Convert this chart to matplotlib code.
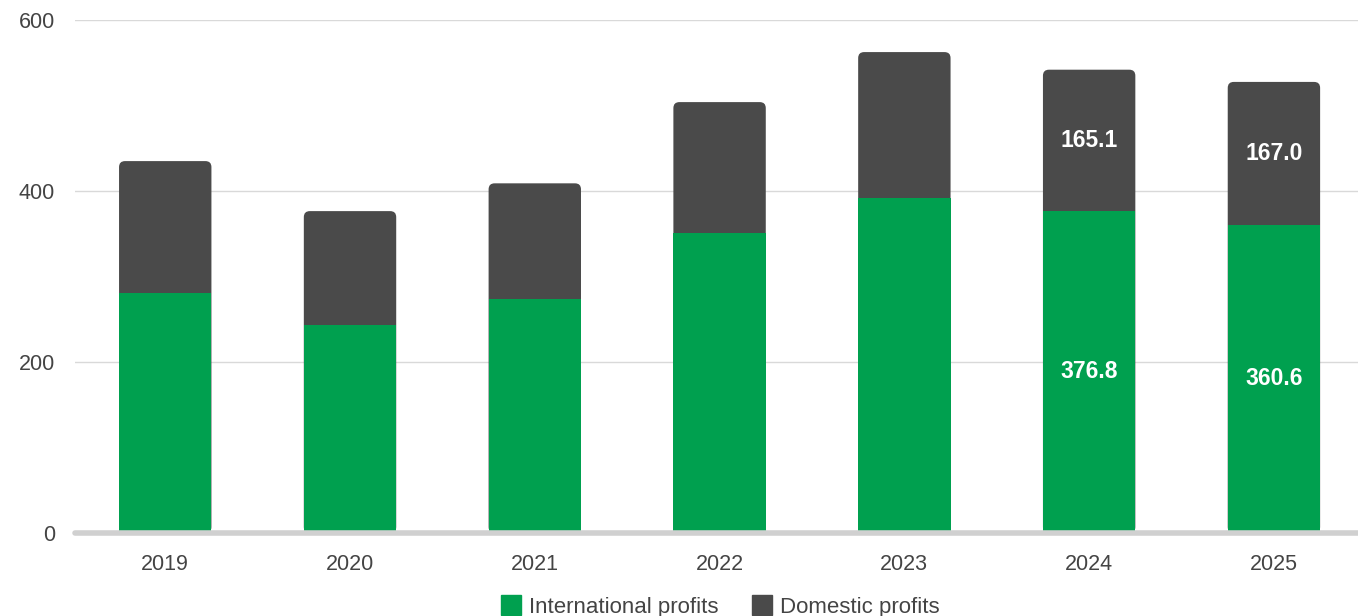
import matplotlib.pyplot as plt
from matplotlib.patches import FancyBboxPatch
from matplotlib.lines import Line2D

plt.rcParams['font.family'] = ['Liberation Sans', 'DejaVu Sans']

years = ['2019', '2020', '2021', '2022', '2023', '2024', '2025']
international = [280.5, 243.0, 273.5, 351.0, 392.0, 376.8, 360.6]
domestic = [154.5, 133.5, 135.5, 153.0, 170.5, 165.1, 167.0]
# only the last two years carry labels
labelled = [False, False, False, False, False, True, True]

GREEN = '#00a04f'
DARK = '#4a4a4a'
TEXT = '#444444'

fig = plt.figure(figsize=(13.58, 6.16), dpi=100)
ax = fig.add_axes([0.055, 0.1347, 0.945, 0.8328])
ax.set_xlim(-0.49, 6.455)
ax.set_ylim(0, 600)

width = 0.5
# data units per pixel, for the rounded corners
xpp = (6.455 + 0.49) / (1358 * 0.945)
ypp = 600 / (616 * 0.8328)
radius_px = 6

for i, (g, d) in enumerate(zip(international, domestic)):
    total = g + d
    # dark column runs from 0 to total, green is drawn over its lower part
    box = FancyBboxPatch((i - width / 2, 0), width, total,
                         boxstyle=f"round,pad=0,rounding_size={radius_px * xpp}",
                         mutation_aspect=ypp / xpp,
                         facecolor=DARK, edgecolor='none', zorder=2)
    ax.add_patch(box)
    ax.bar(i, g, width=width, color=GREEN, zorder=3)
    if labelled[i]:
        ax.text(i, g / 2, f"{g:.1f}", ha='center', va='center', color='white',
                fontsize=16.5, fontweight='bold', zorder=4)
        ax.text(i, g + d / 2, f"{d:.1f}", ha='center', va='center', color='white',
                fontsize=16.5, fontweight='bold', zorder=4)

ax.set_yticks([0, 200, 400, 600])
ax.set_xticks(range(len(years)))
ax.set_xticklabels(years)
ax.grid(axis='y', color='#d9d9d9', linewidth=1, zorder=0)
ax.tick_params(axis='both', length=0, labelsize=15.5, labelcolor=TEXT)
ax.tick_params(axis='x', pad=15)
ax.tick_params(axis='y', pad=14)
for s in ax.spines.values():
    s.set_visible(False)
ax.axhline(0, color='#d0d0d0', linewidth=4, solid_capstyle='round', zorder=5, clip_on=False)

handles = [
    Line2D([], [], marker='s', linestyle='none', markersize=14, markerfacecolor=GREEN,
           markeredgecolor=GREEN, label='International profits'),
    Line2D([], [], marker='s', linestyle='none', markersize=14, markerfacecolor=DARK,
           markeredgecolor=DARK, label='Domestic profits'),
]
leg = fig.legend(handles=handles, loc='lower center', bbox_to_anchor=(0.53, -0.035), ncol=2,
                 frameon=False, fontsize=16, handletextpad=0.3, columnspacing=1.5,
                 handlelength=1.0)
for t in leg.get_texts():
    t.set_color(TEXT)

fig.savefig('out.png', dpi=100)
